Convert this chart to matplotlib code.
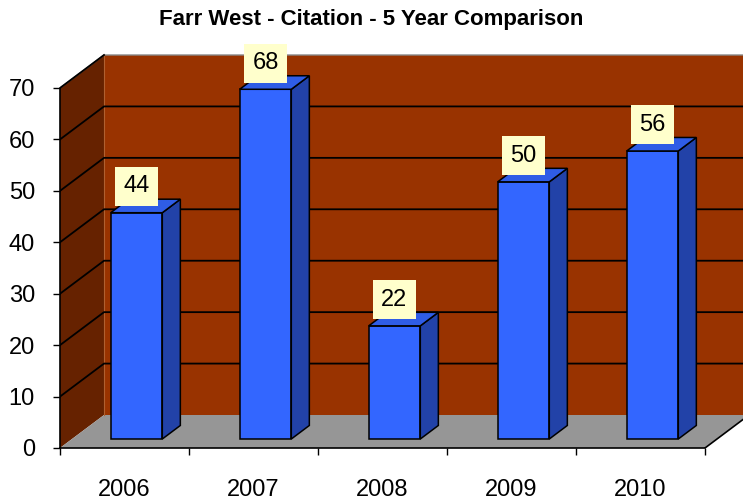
import matplotlib
matplotlib.use("Agg")
import matplotlib.pyplot as plt
from matplotlib.patches import Polygon
import numpy as np

plt.rcParams['font.family'] = ['Liberation Sans', 'DejaVu Sans']

title = "Farr West - Citation - 5 Year Comparison"
categories = ["2006", "2007", "2008", "2009", "2010"]
values = [44, 68, 22, 50, 56]
yticks = [0, 10, 20, 30, 40, 50, 60, 70]

W, H = 743, 503
fig = plt.figure(figsize=(W / 100, H / 100), dpi=100)
px_cat = 129.0          # pixels per category
px_val = 360.0 / 70.0   # pixels per value unit
left_px, bottom_px = 60, 448
xmax = (W - left_px) / px_cat
ymax = 76.8
ax = fig.add_axes([left_px / W, (H - bottom_px) / H,
                   (W - left_px) / W, ymax * px_val / H])
ax.set_xlim(0, xmax)
ax.set_ylim(0, ymax)

n = len(categories)
ymaxwall = 70
ddx = 44 / px_cat      # depth offset in x
ddy = 33 / px_val      # depth offset in y

wall_c = '#993300'
side_wall_c = '#662200'
floor_c = '#969696'

# back wall
ax.add_patch(Polygon([(ddx, ddy), (n + ddx, ddy), (n + ddx, ymaxwall + ddy), (ddx, ymaxwall + ddy)],
                     closed=True, fc=wall_c, ec='none', zorder=1))
# left wall
ax.add_patch(Polygon([(0, 0), (0, ymaxwall), (ddx, ymaxwall + ddy), (ddx, ddy)],
                     closed=True, fc=side_wall_c, ec='none', zorder=1))
# floor
ax.add_patch(Polygon([(0, 0), (n, 0), (n + ddx, ddy), (ddx, ddy)],
                     closed=True, fc=floor_c, ec='none', zorder=1))
# floor edges
ax.plot([n, n + ddx], [0, ddy], color='black', lw=1.2, zorder=2, clip_on=True)
# top edge of wall (gray)
ax.plot([0, ddx, n + ddx], [ymaxwall, ymaxwall + ddy, ymaxwall + ddy], color='#888888', lw=1, zorder=2)
ax.plot([ddx, ddx], [ddy, ymaxwall + ddy], color='#b06030', lw=0.8, zorder=2)

# gridlines
for t in yticks[1:-1]:
    ax.plot([0, ddx, n + ddx], [t, t + ddy, t + ddy], color='black', lw=1.3, zorder=2)
ax.plot([0, ddx], [ymaxwall, ymaxwall + ddy], color='black', lw=1.3, zorder=2)

# bars
bw = 0.4
f0 = 12 / 44
bd = 0.41
front_c = '#3366FF'
top_c = '#2F5DE6'
side_c = '#2242A8'
for i, v in enumerate(values):
    x0 = i + 0.5 - bw / 2 + f0 * ddx
    y0 = f0 * ddy
    x1 = x0 + bw
    y1 = y0 + v
    sx, sy = bd * ddx, bd * ddy
    ax.add_patch(Polygon([(x0, y0), (x1, y0), (x1, y1), (x0, y1)], closed=True,
                         fc=front_c, ec='black', lw=1.1, zorder=5))
    ax.add_patch(Polygon([(x1, y0), (x1 + sx, y0 + sy), (x1 + sx, y1 + sy), (x1, y1)], closed=True,
                         fc=side_c, ec='black', lw=1.1, zorder=5))
    ax.add_patch(Polygon([(x0, y1), (x1, y1), (x1 + sx, y1 + sy), (x0 + sx, y1 + sy)], closed=True,
                         fc=top_c, ec='black', lw=1.1, zorder=5))
    ax.text((x0 + x1) / 2, y1 + 5.1, str(v), ha='center', va='center', fontsize=17,
            zorder=6, bbox=dict(boxstyle='square,pad=0.36', fc='#FFFFCC', ec='none'))

# spines / ticks
for s in ['top', 'right']:
    ax.spines[s].set_visible(False)
ax.spines['left'].set_bounds(0, 70)
ax.spines['bottom'].set_bounds(0, n)
ax.spines['left'].set_linewidth(1.2)
ax.spines['bottom'].set_linewidth(1.2)
ax.spines['left'].set_zorder(3)
ax.spines['bottom'].set_zorder(3)
ax.set_yticks(yticks)
ax.set_yticklabels([str(t) for t in yticks])
ax.tick_params(axis='y', direction='out', length=5, width=1, pad=13, labelsize=17)
ax.set_xticks(np.arange(n + 1), minor=True)
ax.set_xticks(np.arange(n) + 0.5)
ax.set_xticklabels(categories)
ax.tick_params(axis='x', which='major', length=0, pad=22, labelsize=17)
ax.tick_params(axis='x', which='minor', direction='out', length=5, width=1)
ax.set_facecolor('none')

fig.text(0.5, 1 - 19 / H, title, ha='center', va='center', fontsize=16, fontweight='bold')
fig.savefig('out.png', dpi=100)
